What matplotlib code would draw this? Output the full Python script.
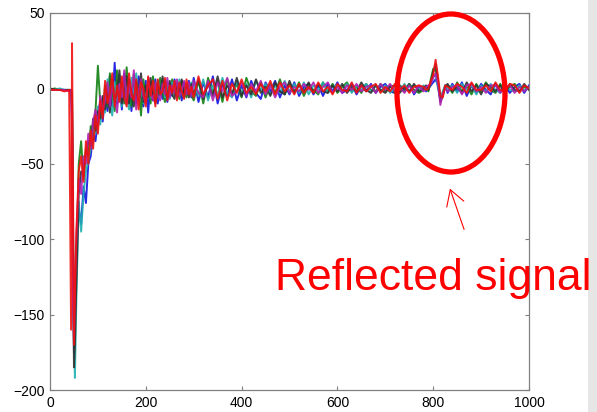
import numpy as np
import matplotlib
matplotlib.use("Agg")
import matplotlib.pyplot as plt
from matplotlib.patches import Ellipse, Rectangle, FancyArrowPatch

# ---- sample positions (shared by all traces) ----
x_seg0 = [0, 10, 20, 30, 40, 44, 46, 48, 50, 52, 55]
x_seg1 = list(range(60, 300, 5))
x_seg2 = list(range(300, 780, 10))
x_seg3 = list(range(780, 830, 5))
x_seg4 = list(range(830, 1001, 10))
x_samples = x_seg0 + x_seg1 + x_seg2 + x_seg3 + x_seg4

# ---- trace values ----
trace_blue = [
    -1, -1, -1, -1, -1, -2, -20, -120, -175, -150, -110,
    -80, -90, -65, -76, -50, -45, -30, -35, -20, -8,
    -22, -5, -15, 8, -12, 17, -10, 5, -14, 10,
    -8, 6, -15, 3, -10, 8, -6, -12, 5, -16,
    4, -8, 6, -10, 2, -7, 5, -9, 3, -5,
    6, -6, 2, -8, 4, -3, 5, -6,
    7, -9, 4, -6, 8, -10, 3, -5, 6, -8,
    2, -6, 5, -3, -7, 4, -2, 5, -6, 2,
    -4, 4, -5, 1, 3, -4, 2, -5, 3, -2,
    4, -3, -1, 3, -4, 2, -2, 3, -3, 1,
    3, -2, -3, 2, -1, 3, -4, 1,
    1, -2, 0, 2, 4, 6, 2, -8, -4, 2,
    -3, 3, -2, 4, -5, 2, -3, 3, -1, -4, 3, -2, 2, -3, 1, 3, -3, 2,
]
trace_green = [
    -1, 0, -1, -1, -1, -1, -10, -100, -170, -160, -120,
    -50, -35, -60, -40, -45, -25, -35, -15, 15, -10,
    -18, 2, -12, 10, -5, -15, 12, -8, 4, -10,
    14, -6, -12, 9, -4, 2, -18, 6, -8, 4,
    -10, 8, -4, -6, 7, -3, -9, 4, -5, 6,
    -4, 3, -7, 5, -2, -6, 3, -4,
    -8, 5, -10, 7, -3, 5, -9, 6, -4, 3,
    -6, 7, -2, -5, 4, -6, 3, -3, 6, -4,
    3, -2, 4, -5, 2, -1, -4, 4, -2, 3,
    -3, 1, 4, -2, 1, -3, 3, -1, -2, 3,
    -2, 2, -3, 2, -2, 3, -1, -3,
    -1, 1, -2, 6, 13, 12, 4, -6, -3, 1,
    2, -3, 4, -2, 1, -4, 3, -2, 4, -1, -3, 3, -2, 1, 3, -2, 1, -1,
]
trace_cyan = [
    -1, -1, 0, -1, -1, -1, -5, -80, -160, -192, -140,
    -75, -95, -70, -55, -48, -40, -25, -30, -12, -24,
    -6, -16, 6, -10, -18, 4, -8, 9, -12, 2,
    -5, -14, 7, -6, 10, -8, 3, -10, -2, 6,
    -6, 3, -9, 5, -2, 6, -6, 2, -7, 4,
    1, -5, 6, -3, -6, 3, -2, 4,
    3, -5, 6, -8, 2, -4, 7, -3, -6, 5,
    -3, 3, -6, 5, -1, 3, -4, 2, -3, 5,
    -2, 3, -3, 4, -4, 2, -1, 4, -3, 1,
    2, -2, 3, -3, 2, -1, 3, -2, 2, -2,
    2, -3, 1, -2, 3, -2, 2, -1,
    2, -1, 1, 3, 8, 9, 0, -7, -2, 2,
    -1, 2, -3, 3, -1, 2, -4, 2, -2, 3, -1, -3, 3, -1, -2, 2, -1, 0,
]
trace_black = [
    0, -1, -1, -1, -1, -1, -8, -90, -185, -170, -130,
    -70, -55, -58, -42, -35, -38, -20, -28, -15, -20,
    -5, -14, -2, -16, 6, -8, -3, 12, -10, -4,
    8, -10, 0, -12, 5, -4, 10, -9, 2, -6,
    7, -5, -10, 3, -4, 8, -3, -6, 5, -4,
    -7, 4, -3, 6, -5, 2, -6, 3,
    -4, 6, -7, 3, -5, 8, -6, 2, -4, 7,
    -5, 2, -4, 6, -3, 1, -5, 4, -2, -4,
    5, -3, 2, -2, 4, -3, 3, -2, -3, 2,
    -2, 3, -3, 1, -2, 4, -1, -3, 2, -1,
    -3, 1, 2, -3, 1, -2, 3, -2,
    0, 2, -1, 4, 11, 16, 6, -9, -5, 1,
    3, -2, 1, -3, 4, -2, 2, -4, 3, 1, -2, 2, -4, 3, -1, -2, 3, -1,
]
trace_magenta = [
    -1, -1, -1, -1, -2, -1, -30, -140, -165, -130, -100,
    -60, -70, -45, -50, -30, -40, -22, -14, -25, -5,
    -15, -8, 4, -12, 2, -6, -16, 3, -6, 12,
    -10, 2, -6, 12, -14, -2, 6, -5, -10, 7,
    -3, -8, 4, -5, -8, 3, -4, 7, -6, 2,
    -3, 6, -5, -2, 5, -4, 4, -5,
    5, -3, -6, 5, -8, 4, -2, 7, -5, -2,
    4, -5, 3, -2, 5, -4, 2, -6, 1, 4,
    -3, 1, -2, 3, -1, 4, -3, 1, 4, -3,
    1, -3, 2, -1, 3, -2, 1, 2, -3, 3,
    -1, 3, -2, 1, -3, 2, -3, 2,
    -2, 1, 2, 3, 7, 10, 3, -11, -3, 0,
    -2, 1, 2, -4, 2, 3, -2, 1, -3, 2, 2, -3, 1, 2, -3, 1, -2, 1,
]
trace_red = [
    -1, -1, -1, -2, -1, -160, 30, -60, -170, -140, -95,
    -55, -45, -62, -35, -50, -28, -40, -18, -30, -8,
    -20, 5, -10, -3, 10, -12, 2, -9, 8, -6,
    -12, 10, -4, -8, 6, -14, 4, 0, -12, 8,
    -5, 5, -12, 6, -4, -2, 7, -8, 2, -3,
    5, -8, 4, -2, -7, 6, -4, 1,
    -6, 8, -4, 2, 6, -7, 5, -8, 3, -3,
    6, -3, 1, -4, 3, -2, 5, -4, 4, -2,
    2, -4, 3, -3, 1, -3, 4, -2, 1, -4,
    3, -1, -2, 4, -3, 2, -2, 1, 3, -3,
    1, -2, 3, -1, 2, -3, 1, 2,
    1, -1, 0, 5, 9, 19, 8, -5, -6, 2,
    1, -1, 3, 1, -3, 4, -1, -1, 2, -2, 4, -1, -2, 3, 2, -3, 2, 0,
]

traces = [trace_blue, trace_green, trace_cyan, trace_black, trace_magenta, trace_red]
colors = ["#1010e0", "#108010", "#20b0b0", "#303030", "#b020b0", "#f01010"]

x_ticks = [0, 200, 400, 600, 800, 1000]
y_ticks = [-200, -150, -100, -50, 0, 50]
annotation_text = "Reflected signal"

W, H = 597, 412
fig = plt.figure(figsize=(W / 100, H / 100), dpi=100)
fig.patch.set_facecolor("white")

# light gray slide strip on the right
fig.patches.append(Rectangle((588 / W, 0), 9 / W, 1, transform=fig.transFigure,
                             facecolor="#e6e6e6", edgecolor="none", zorder=0))

ax = fig.add_axes([50 / W, 22 / H, 479 / W, 377 / H])
xs = np.array(x_samples)
for tr, c in zip(traces, colors):
    tr = np.array(tr, dtype=float)
    n = min(len(tr), len(xs))
    ax.plot(xs[:n], tr[:n], color=c, lw=1.4, alpha=0.9, solid_joinstyle="round")

ax.set_xlim(0, 1000)
ax.set_ylim(-200, 50)
ax.set_xticks(x_ticks)
ax.set_yticks(y_ticks)
for s in ax.spines.values():
    s.set_color("#808080")
    s.set_linewidth(0.9)
ax.tick_params(direction="in", length=3, width=0.8, color="#808080",
               top=True, right=True, labelsize=10, pad=4)
for lab in ax.get_xticklabels() + ax.get_yticklabels():
    lab.set_fontfamily("Liberation Sans")

# red ellipse (figure pixel coordinates)
ell = Ellipse((451 / W, 1 - 93 / H), 108 / W, 158 / H, transform=fig.transFigure,
              fill=False, edgecolor="#ff0000", linewidth=3.8, zorder=10)
fig.patches.append(ell)

# arrow
arr = FancyArrowPatch((465 / W, 1 - 232 / H), (449 / W, 1 - 186 / H),
                      transform=fig.transFigure,
                      arrowstyle="->,head_length=11,head_width=6.5",
                      mutation_scale=1, color="#ff0000", lw=0.8, zorder=10)
fig.patches.append(arr)

fig.text(275 / W, 1 - 290 / H, annotation_text, color="#ff0000", fontsize=32,
         family="Liberation Sans", ha="left", va="baseline", zorder=11)

fig.savefig("out.png", dpi=100)
